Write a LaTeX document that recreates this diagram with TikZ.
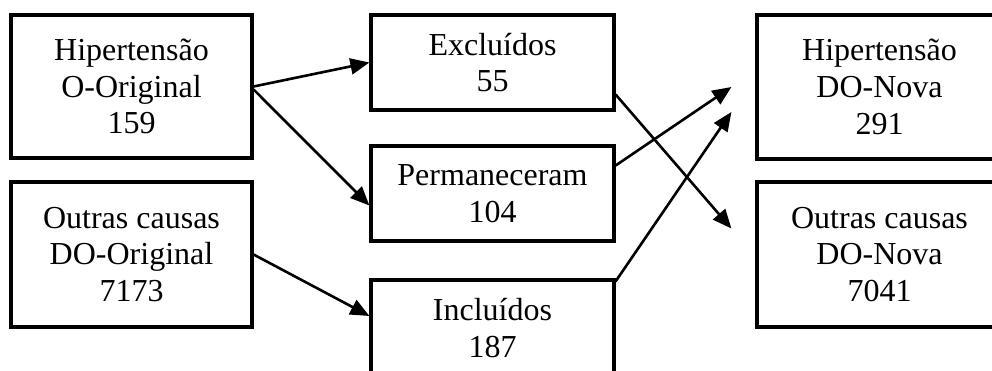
\documentclass[tikz,border=0pt]{standalone}
\usepackage{fontspec}
\setmainfont{Liberation Serif}
\usetikzlibrary{arrows.meta}
\begin{document}
\begin{tikzpicture}[x=1pt,y=-1pt,
  box/.style={draw=black, line width=3.2pt, rectangle, inner sep=0pt, align=center,
    font=\fontsize{32}{36.7}\selectfont},
  conn/.style={line width=2.6pt, -{Triangle[length=19pt,width=16pt]}}]
\useasboundingbox (0,0) rectangle (992,370);
\node[box, minimum width=241pt, minimum height=143pt] (in1) at (131.5,86.5) {Hipertensão\\O-Original\\159};
\node[box, minimum width=241pt, minimum height=145pt] (in2) at (131.5,254.5) {Outras causas\\DO-Original\\7173};
\node[box, minimum width=243pt, minimum height=95pt] (exc) at (492.5,62.5) {Excluídos\\55};
\node[box, minimum width=243pt, minimum height=95pt] (per) at (492.5,193.5) {Permaneceram\\104};
\node[box, minimum width=243pt, minimum height=96pt] (inc) at (492.5,328) {Incluídos\\187};
\node[box, minimum width=245pt, minimum height=144pt] (o1) at (879.5,87) {Hipertensão\\DO-Nova\\291};
\node[box, minimum width=245pt, minimum height=145pt] (o2) at (879.5,254.5) {Outras causas\\DO-Nova\\7041};
\coordinate (t1) at ([xshift=-24pt,yshift=26pt]o2.west);
\coordinate (t2) at ([xshift=-24pt]o1.west);
\coordinate (t3) at ([xshift=-24pt,yshift=-25pt]o1.west);
\draw[conn] ([yshift=0pt]in1.east) -- (exc.west);
\draw[conn] ([yshift=-3pt]in1.east) -- ([yshift=-12pt]per.west);
\draw[conn] (in2.east) -- ([yshift=12pt]inc.west);
\draw[conn] ([yshift=-32pt]exc.east) -- (t1);
\draw[conn] ([yshift=28pt]per.east) -- (t2);
\draw[conn] ([yshift=-3pt]inc.north east) -- (t3);
\end{tikzpicture}
\end{document}
